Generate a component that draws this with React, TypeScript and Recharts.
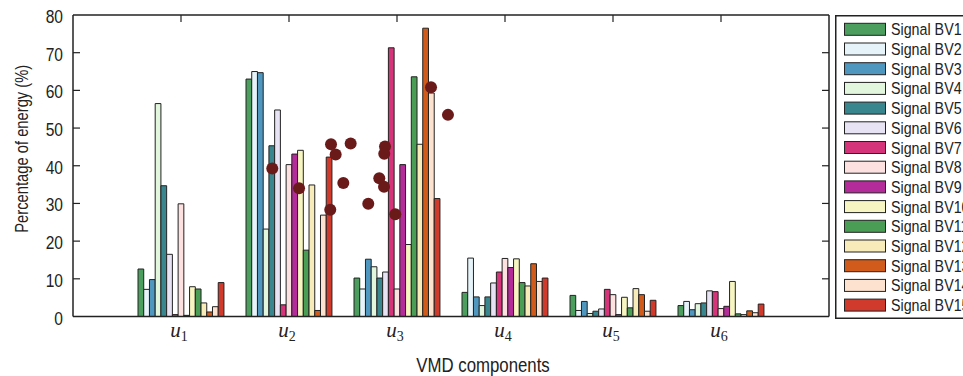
import React from 'react';
import { ComposedChart, Bar, Scatter, XAxis, YAxis } from 'recharts';

const categories = ['1', '2', '3', '4', '5', '6'];
const seriesNames = [
  'Signal BV1', 'Signal BV2', 'Signal BV3', 'Signal BV4', 'Signal BV5',
  'Signal BV6', 'Signal BV7', 'Signal BV8', 'Signal BV9', 'Signal BV10',
  'Signal BV11', 'Signal BV12', 'Signal BV13', 'Signal BV14', 'Signal BV15',
];
const seriesColors = [
  '#4b9e5e', '#e6f4fa', '#4f97bf', '#e2f5dd', '#3a868e',
  '#e7e3f4', '#d5347a', '#fde1e1', '#b42c99', '#f7f5c1',
  '#4a9d55', '#f7ecb9', '#d05b1a', '#fde3cf', '#cf3a2d',
];

const BV1 = [12.6, 63.0, 10.2, 6.4, 5.6, 2.9];
const BV2 = [7.2, 65.0, 7.3, 15.5, 1.6, 4.0];
const BV3 = [9.8, 64.7, 15.2, 5.2, 4.0, 1.8];
const BV4 = [56.5, 23.2, 13.2, 2.9, 0.8, 3.4];
const BV5 = [34.7, 45.3, 10.2, 5.2, 1.4, 3.6];
const BV6 = [16.5, 54.8, 11.8, 8.9, 2.0, 6.8];
const BV7 = [0.5, 3.1, 71.3, 11.8, 7.2, 6.6];
const BV8 = [29.9, 40.3, 7.3, 15.4, 5.8, 2.1];
const BV9 = [0.3, 43.1, 40.3, 13.0, 0.5, 2.7];
const BV10 = [7.9, 44.1, 19.1, 15.3, 5.1, 9.3];
const BV11 = [7.3, 17.6, 63.6, 9.0, 2.3, 0.7];
const BV12 = [3.6, 34.9, 45.7, 8.1, 7.4, 0.5];
const BV13 = [1.2, 1.6, 76.5, 14.0, 5.8, 1.5];
const BV14 = [2.6, 26.9, 59.3, 9.3, 1.4, 1.0];
const BV15 = [9.0, 42.3, 31.3, 10.2, 4.3, 3.3];
const seriesValues = [BV1, BV2, BV3, BV4, BV5, BV6, BV7, BV8, BV9, BV10, BV11, BV12, BV13, BV14, BV15];

const pointX = [1.845, 2.093, 2.389, 2.432, 2.571, 2.503, 2.382, 2.734, 2.889, 2.882, 2.836, 2.880, 2.984, 3.315, 3.472];
const pointY = [39.3, 34.0, 45.7, 43.0, 45.9, 35.4, 28.3, 29.9, 45.1, 43.2, 36.7, 34.4, 27.1, 60.8, 53.5];

const yTicks = [0, 10, 20, 30, 40, 50, 60, 70, 80];

const FONT = '"Liberation Sans", Arial, "DejaVu Sans", sans-serif';
const SERIF = '"Liberation Serif", "Times New Roman", "DejaVu Serif", serif';
const INK = '#222';
const NARROW = 0.82;

const rows = categories.map((c, i) => {
  const r: Record<string, any> = { cat: c };
  seriesValues.forEach((arr, s) => { r['bv' + (s + 1)] = arr[i]; });
  return r;
});
const points = pointX.map((x, i) => ({ x, y: pointY[i] }));

// condensed sans text (Arial Narrow look) via horizontal scaling
const NText = ({ x, y, rotate = 0, size, anchor = 'start', children }: any) => (
  <text
    x={0}
    y={0}
    transform={`translate(${x} ${y}) rotate(${rotate}) scale(${NARROW} 1)`}
    textAnchor={anchor}
    fontSize={size}
    fontFamily={FONT}
    fill={INK}
  >
    {children}
  </text>
);

const LeftTick = (props: any) => {
  const { x, y, payload } = props;
  const ax = x + 10;
  const v = payload.value;
  return (
    <g>
      {v !== 0 && v !== 80 && <line x1={ax} x2={ax + 7} y1={y} y2={y} stroke={INK} strokeWidth={1.2} />}
      <NText x={x} y={y + 8} size={19} anchor="end">{v}</NText>
    </g>
  );
};

const RightTick = (props: any) => {
  const { x, y, payload } = props;
  const v = payload.value;
  if (v === 0 || v === 80) return <g />;
  return <line x1={x - 7} x2={x} y1={y} y2={y} stroke={INK} strokeWidth={1.2} />;
};

const TopTick = (props: any) => {
  const { x, y } = props;
  return <line x1={x} x2={x} y1={y} y2={y + 7} stroke={INK} strokeWidth={1.2} />;
};

const BottomTick = (props: any) => {
  const { x, y, payload } = props;
  return (
    <text x={x} y={y} dx={-2} dy={20} textAnchor="middle" fontFamily={SERIF} fill={INK}>
      <tspan fontSize={21} fontStyle="italic">u</tspan>
      <tspan fontSize={14} dy={4}>{payload.value}</tspan>
    </text>
  );
};

const YLabel = (props: any) => {
  const vb = props.viewBox || { x: 13, y: 15, width: 60, height: 301 };
  const cx = vb.x + 15;
  const cy = vb.y + vb.height / 2 - 17;
  return <NText x={cx} y={cy} rotate={-90} size={18} anchor="middle">Percentage of energy (%)</NText>;
};

const XLabel = (props: any) => {
  const vb = props.viewBox || { x: 73, y: 316, width: 756, height: 40 };
  const cx = vb.x + vb.width / 2 + 32;
  const cy = vb.y + 55;
  return <NText x={cx} y={cy} size={20.5} anchor="middle">VMD components</NText>;
};

const Dot = (props: any) => <circle cx={props.cx} cy={props.cy} r={6} fill="#6b1a1a" />;

const Legend = () => (
  <svg width={128} height={306} style={{ position: 'absolute', left: 835, top: 15 }}>
    <rect x={0.75} y={0.75} width={200} height={302.5} fill="#fff" stroke={INK} strokeWidth={1.5} />
    {seriesNames.map((n, i) => {
      const cy = 14.3 + i * 19.7;
      return (
        <g key={n}>
          <rect x={9.5} y={cy - 6} width={41} height={12} fill={seriesColors[i]} stroke={INK} strokeWidth={1} />
          <NText x={56} y={cy + 6} size={17.4}>{n}</NText>
        </g>
      );
    })}
  </svg>
);

export default function App() {
  return (
    <div style={{ position: 'absolute', left: 0, top: 0, width: 963, height: 376, overflow: 'hidden', background: '#fff' }}>
      <ComposedChart
        width={963}
        height={376}
        data={rows}
        margin={{ top: 14, right: 133, bottom: 19.5, left: 13 }}
        barGap={0}
        barSize={5.73}
      >
        <XAxis xAxisId="cat" dataKey="cat" orientation="bottom" height={40} padding={{ left: 54, right: 54 }}
          axisLine={{ stroke: INK, strokeWidth: 1.5 }} tickLine={false} tickSize={0} tickMargin={0}
          tick={<BottomTick />} label={<XLabel />} interval={0} />
        <XAxis xAxisId="top" dataKey="cat" orientation="top" height={1} padding={{ left: 54, right: 54 }}
          axisLine={{ stroke: INK, strokeWidth: 1.5 }} tickLine={false} tickSize={0} tickMargin={0}
          tick={<TopTick />} interval={0} />
        <XAxis xAxisId="sx" type="number" dataKey="x" domain={[0, 7]} hide allowDataOverflow />
        <YAxis yAxisId="l" orientation="left" width={60} domain={[0, 80]} ticks={yTicks} interval={0}
          axisLine={{ stroke: INK, strokeWidth: 1.5 }} tickLine={false} tickSize={0} tickMargin={10}
          tick={<LeftTick />} label={<YLabel />} allowDataOverflow />
        <YAxis yAxisId="r" orientation="right" width={1} domain={[0, 80]} ticks={yTicks} interval={0}
          axisLine={{ stroke: INK, strokeWidth: 1.5 }} tickLine={false} tickSize={0} tickMargin={0}
          tick={<RightTick />} allowDataOverflow />
        <YAxis yAxisId="sy" dataKey="y" domain={[0, 80]} hide allowDataOverflow />
        {seriesNames.map((n, i) => (
          <Bar key={n} xAxisId="cat" yAxisId="l" dataKey={'bv' + (i + 1)} name={n} fill={seriesColors[i]}
            stroke={INK} strokeWidth={1} isAnimationActive={false} />
        ))}
        <Scatter xAxisId="sx" yAxisId="sy" data={points} dataKey="y" shape={<Dot />} isAnimationActive={false} />
      </ComposedChart>
      <Legend />
    </div>
  );
}
